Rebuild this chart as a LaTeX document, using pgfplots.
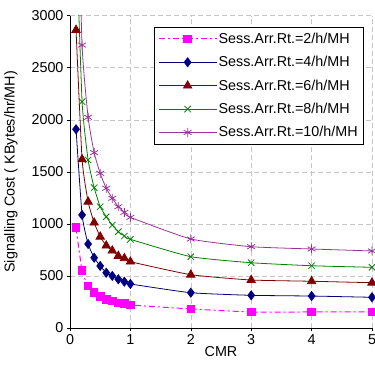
\documentclass[border=0pt]{standalone}
\usepackage{fontspec}
\setmainfont{Liberation Sans}
\usepackage{pgfplots}
\pgfplotsset{compat=1.18}
\definecolor{cMag}{HTML}{FF00FF}
\definecolor{cNavy}{HTML}{000080}
\definecolor{cRed}{HTML}{800000}
\definecolor{cGreen}{HTML}{008000}
\definecolor{cPurp}{HTML}{993399}
\begin{document}
\begin{tikzpicture}
\begin{axis}[
  name=ax,
  scale only axis,
  width=302bp, height=312.3bp,
  xmin=0, xmax=5, ymin=0, ymax=3000,
  axis x line=bottom, axis y line=left,
  axis line style={-, black, line width=0.8pt},
  xtick={0,1,2,3,4,5}, ytick={0,500,1000,1500,2000,2500,3000},
  tick align=outside, major tick length=3bp,
  tick style={black, line width=0.6pt},
  grid=major,
  major grid style={gray!45, dashed, dash pattern=on 5bp off 3bp, line width=0.6pt},
  /pgf/number format/assume math mode=true,
  /pgf/number format/set thousands separator={},
  ticklabel style={font=\fontsize{14.4}{16}\selectfont},
  xlabel={CMR}, ylabel={Signalling Cost ( KBytes/hr/MH)},
  label style={font=\fontsize{14.4}{16}\selectfont},
  xlabel style={at={(axis description cs:0.5,0)}, anchor=north, yshift=-15bp},
  ylabel style={at={(axis description cs:0,0.5)}, anchor=south, yshift=49bp},
  clip=true,
  legend style={at={(axis cs:1.39,2890)}, anchor=north west,
    font=\fontsize{14.4}{16}\selectfont, draw=black, line width=0.6pt,
    row sep=8.5bp, inner xsep=4bp, inner ysep=4bp,
    fill=white, nodes={inner sep=1.5bp}},
  legend cell align=left,
  legend image code/.code={\draw[mark repeat=2,mark phase=2] plot coordinates {(0bp,0bp)(29bp,0bp)(58bp,0bp)};},
  legend image post style={line width=0.8pt},
]
\addplot[cMag, line width=1pt, dash pattern=on 6bp off 3bp on 2bp off 3bp, smooth, tension=0.3,
  mark=square*, mark size=3.8bp, mark options={solid, fill=cMag}]
  coordinates {(0.1,963)(0.2,550)(0.3,403)(0.4,343)(0.5,301)(0.6,276)(0.7,259)(0.8,240)(0.9,233)(1,221)(2,183)(3,154)(4,154)(5,154)};
\addlegendentry{Sess.Arr.Rt.=2/h/MH}
\addplot[cNavy, line width=0.8pt, smooth, tension=0.3,
  mark=diamond*, mark size=4.5bp, mark options={solid, fill=cNavy}]
  coordinates {(0.1,1909)(0.2,1086)(0.3,807)(0.4,675)(0.5,596)(0.6,531)(0.7,500)(0.8,468)(0.9,445)(1,423)(2,339)(3,314)(4,307)(5,295)};
\addlegendentry{Sess.Arr.Rt.=4/h/MH}
\addplot[cRed, line width=0.8pt, smooth, tension=0.3,
  mark=triangle*, mark size=4.8bp, mark options={solid, fill=cRed}]
  coordinates {(0.1,2863)(0.2,1620)(0.3,1213)(0.4,1012)(0.5,877)(0.6,791)(0.7,743)(0.8,692)(0.9,670)(1,637)(2,512)(3,461)(4,449)(5,435)};
\addlegendentry{Sess.Arr.Rt.=6/h/MH}
\addplot[cGreen, line width=0.8pt, smooth, tension=0.3,
  mark=x, mark size=4.5bp, mark options={solid, line width=0.8pt}]
  coordinates {(0.1,3818)(0.2,2174)(0.3,1614)(0.4,1348)(0.5,1165)(0.6,1069)(0.7,989)(0.8,925)(0.9,884)(1,852)(2,685)(3,627)(4,598)(5,583)};
\addlegendentry{Sess.Arr.Rt.=8/h/MH}
\addplot[cPurp, line width=0.8pt, smooth, tension=0.3,
  mark=asterisk, mark size=4.5bp, mark options={solid, line width=0.8pt}]
  coordinates {(0.1,4772)(0.2,2718)(0.3,2024)(0.4,1684)(0.5,1486)(0.6,1342)(0.7,1246)(0.8,1165)(0.9,1111)(1,1063)(2,855)(3,781)(4,759)(5,740)};
\addlegendentry{Sess.Arr.Rt.=10/h/MH}
\end{axis}
\pgfresetboundingbox
\path[use as bounding box] (ax.south west) ++(-70bp,-39bp) rectangle ([xshift=3bp,yshift=15.7bp]ax.north east);
\end{tikzpicture}
\end{document}
